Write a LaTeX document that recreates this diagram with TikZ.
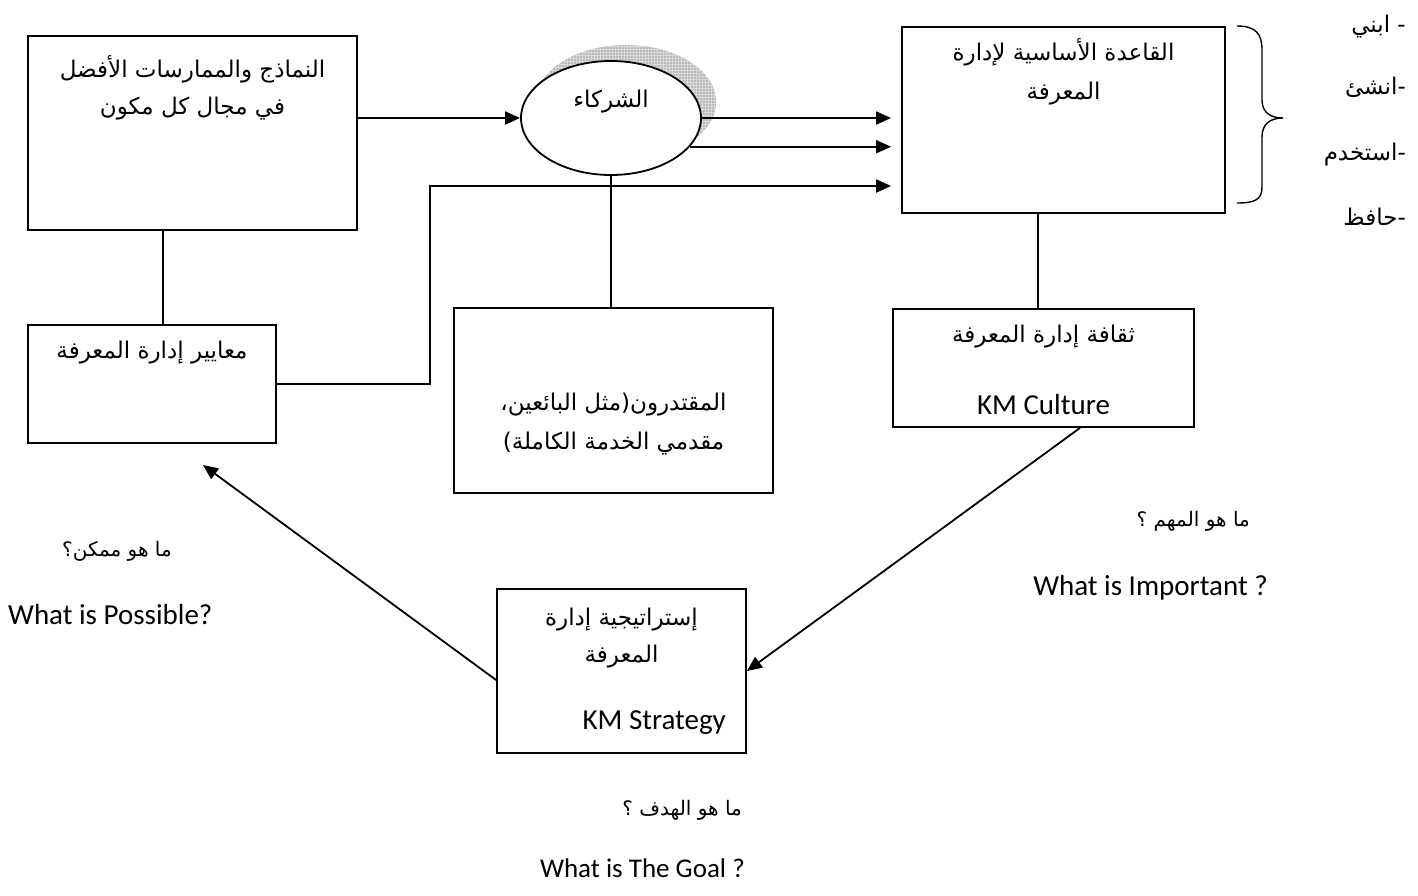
\documentclass[tikz,border=0pt]{standalone}
\usepackage{fontspec}
\setmainfont{Carlito}
\newfontfamily\arabicfont[Script=Arabic]{DejaVu Sans}
\TeXXeTstate=1
\usetikzlibrary{arrows.meta,shapes.geometric,patterns}
% one right-to-left run of Arabic text
\newcommand\artxt[1]{{\arabicfont\beginR #1\endR}}
\begin{document}
\begin{tikzpicture}[x=1pt,y=-1pt,
  box/.style={draw, line width=1.8pt, rectangle, inner sep=0pt},
  conn/.style={line width=1.8pt},
  arr/.style={line width=1.8pt, -{Triangle[length=15pt,width=13pt]}},
  artext/.style={inner sep=0pt, align=center, font=\fontsize{23}{37}\selectfont},
  entext/.style={inner sep=0pt, font=\fontsize{29}{34}\selectfont},
  qlabel/.style={inner sep=0pt, font=\fontsize{20}{24}\selectfont},
  listitem/.style={inner sep=0pt, anchor=east, font=\fontsize{23}{26}\selectfont}]
\useasboundingbox (0,0) rectangle (1418,895);
\fill[white] (0,0) rectangle (1418,895);

% boxes
\node[box, minimum width=329pt, minimum height=194pt] (A) at (192.5,133) {};
\node[box, minimum width=248pt, minimum height=118pt] (B) at (152,384) {};
\node[box, minimum width=323pt, minimum height=186pt] (C) at (1063.5,120) {};
\node[box, minimum width=319pt, minimum height=185pt] (D) at (613.5,400.5) {};
\node[box, minimum width=301pt, minimum height=118pt] (E) at (1043.5,368) {};
\node[box, minimum width=249pt, minimum height=164pt] (F) at (621.5,671) {};

% partners ellipse with its hatched shadow
\node[ellipse, minimum width=180pt, minimum height=114pt, inner sep=0pt,
      fill=gray!55, postaction={pattern=grid, pattern color=gray!30}] (Ps) at (626,102) {};
\node[ellipse, draw, fill=white, line width=1.8pt, minimum width=180pt,
      minimum height=114pt, inner sep=0pt] (P) at (611,118) {};

% box texts
\node[artext] (tA) at (192.5,88) {\artxt{النماذج والممارسات الأفضل}\\\artxt{في مجال كل مكون}};
\node[artext] (tP) at (611,102) {\artxt{الشركاء}};
\node[artext] (tB) at (152,353) {\artxt{معايير إدارة المعرفة}};
\node[artext, font=\fontsize{23}{39}\selectfont] (tC) at (1063.5,72) {\artxt{القاعدة الأساسية لإدارة}\\\artxt{المعرفة}};
\node[artext, font=\fontsize{23}{39}\selectfont] (tD) at (613.5,424) {\artxt{المقتدرون(مثل البائعين،}\\\artxt{مقدمي الخدمة الكاملة)}};
\node[artext] (tE1) at (1043.5,337) {\artxt{ثقافة إدارة المعرفة}};
\node[entext] (tE2) at (1043.5,405) {KM Culture};
\node[artext] (tF1) at (621.5,638) {\artxt{إستراتيجية إدارة}\\\artxt{المعرفة}};
\node[entext, anchor=east] (tF2) at (726,723) {KM Strategy};

% connectors
\draw[arr] (A.east |- P.west) -- (P.west);
\draw[arr, shorten >=10pt] (P.east) -- (P.east -| C.west);
\draw[arr, shorten >=10pt] (P.-20.6) -- (P.-20.6 -| C.west);
\coordinate (bend) at (430,186);
\draw[arr, shorten >=10pt] (B.east) -| (bend) -- (bend -| C.west);
\draw[conn] ([xshift=-29.5pt]A.south) -- ([xshift=-29.5pt]A.south |- B.north);
\draw[conn] (P.south) -- (P.south |- D.north);
\draw[conn] ([xshift=-25.5pt]C.south) -- ([xshift=-25.5pt]C.south |- E.north);
\draw[arr] ([xshift=36.5pt]E.south) -- (F.east);
\coordinate (possible) at (203,465);
\draw[arr] ([yshift=-9pt]F.west) -- (possible);

% brace beside the knowledge base
\draw[line width=1.4pt] (1237,26) .. controls (1256,26) and (1262,34) .. (1262,50)
  -- (1262,100) .. controls (1262,112) and (1270,118) .. (1283,118)
  .. controls (1270,118) and (1262,124) .. (1262,137)
  -- (1262,187) .. controls (1262,199) and (1256,203) .. (1237,203);

% actions list
\node[listitem] (l1) at (1406,27) {\artxt{- ابني}};
\node[listitem] (l2) at (1406,87) {\artxt{-انشئ}};
\node[listitem] (l3) at (1406,155) {\artxt{-استخدم}};
\node[listitem] (l4) at (1406,217) {\artxt{-حافظ}};

% guiding questions
\node[qlabel, anchor=east] (q1) at (172,551) {\artxt{ما هو ممكن؟}};
\node[entext, anchor=west] (q1e) at (8,615) {What is Possible?};
\node[qlabel, anchor=east] (q2) at (1250,521) {\artxt{ما هو المهم ؟}};
\node[entext, anchor=east] (q2e) at (1268,588) {What is Important ?};
\node[qlabel, anchor=east] (q3) at (742,810) {\artxt{ما هو الهدف ؟}};
\node[entext, anchor=east, font=\fontsize{27}{32}\selectfont] (q3e) at (745,868) {What is The Goal ?};
\end{tikzpicture}
\end{document}
